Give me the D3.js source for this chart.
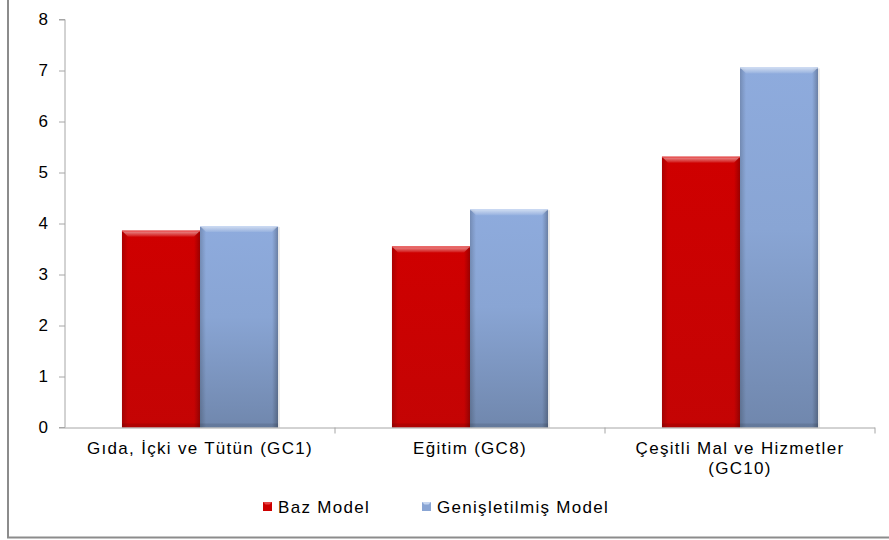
<!DOCTYPE html>
<html>
<head>
<meta charset="utf-8">
<script src="https://cdn.jsdelivr.net/npm/d3@7"></script>
<style>
  html, body { margin: 0; padding: 0; background: #fff; }
  svg text { font-family: "Liberation Sans", Arial, sans-serif; fill: #000; }
</style>
</head>
<body>
<svg id="chart" width="889" height="540"></svg>
<script>
// Categories and series
const categories = ["Gıda, İçki ve Tütün (GC1)", "Eğitim (GC8)", "Çeşitli Mal ve Hizmetler (GC10)"];
const categoryLines = [["Gıda, İçki ve Tütün (GC1)"], ["Eğitim (GC8)"], ["Çeşitli Mal ve Hizmetler", "(GC10)"]];
const seriesNames = ["Baz Model", "Genişletilmiş Model"];
const bazModel = [3.86, 3.55, 5.31];
const genisletilmisModel = [3.95, 4.28, 7.06];
const yTicks = [0, 1, 2, 3, 4, 5, 6, 7, 8];

const FONT = 17;
const SPACING = "1.3px";

const svg = d3.select("#chart");
const margin = { left: 65, right: 14, top: 19.5, bottom: 112.5 };
const W = 889, H = 540;
const plotW = W - margin.left - margin.right;
const plotH = H - margin.top - margin.bottom;

const defs = svg.append("defs");
const blueGrad = defs.append("linearGradient").attr("id", "blueGrad").attr("x1", 0).attr("y1", 0).attr("x2", 0).attr("y2", 1);
blueGrad.append("stop").attr("offset", "0%").attr("stop-color", "#8eabdd");
blueGrad.append("stop").attr("offset", "45%").attr("stop-color", "#89a5d4");
blueGrad.append("stop").attr("offset", "100%").attr("stop-color", "#7087ad");
const redGrad = defs.append("linearGradient").attr("id", "redGrad").attr("x1", 0).attr("y1", 0).attr("x2", 0).attr("y2", 1);
redGrad.append("stop").attr("offset", "0%").attr("stop-color", "#cf0000");
redGrad.append("stop").attr("offset", "100%").attr("stop-color", "#c40404");
const sideGrad = defs.append("linearGradient").attr("id", "sideL").attr("x1", 0).attr("y1", 0).attr("x2", 1).attr("y2", 0);
sideGrad.append("stop").attr("offset", "0%").attr("stop-color", "#000").attr("stop-opacity", 0.18);
sideGrad.append("stop").attr("offset", "100%").attr("stop-color", "#000").attr("stop-opacity", 0);
const sideGradR = defs.append("linearGradient").attr("id", "sideR").attr("x1", 1).attr("y1", 0).attr("x2", 0).attr("y2", 0);
sideGradR.append("stop").attr("offset", "0%").attr("stop-color", "#000").attr("stop-opacity", 0.25);
sideGradR.append("stop").attr("offset", "100%").attr("stop-color", "#000").attr("stop-opacity", 0);
const topGrad = defs.append("linearGradient").attr("id", "topHi").attr("x1", 0).attr("y1", 0).attr("x2", 0).attr("y2", 1);
topGrad.append("stop").attr("offset", "0%").attr("stop-color", "#fff").attr("stop-opacity", 0.6);
topGrad.append("stop").attr("offset", "100%").attr("stop-color", "#fff").attr("stop-opacity", 0.08);

// Outer frame: left and bottom edges
svg.append("line").attr("x1", 8).attr("x2", 8).attr("y1", 0).attr("y2", 538)
  .attr("stroke", "#8c8c8c").attr("stroke-width", 2);
svg.append("line").attr("x1", 7).attr("x2", W).attr("y1", 537.5).attr("y2", 537.5)
  .attr("stroke", "#8c8c8c").attr("stroke-width", 2);

const g = svg.append("g").attr("transform", `translate(${margin.left},${margin.top})`);

const x0 = d3.scaleBand().domain(categories).range([0, plotW]).paddingInner(0).paddingOuter(0);
const x1 = d3.scaleBand().domain(seriesNames).range([0, x0.bandwidth()]).paddingInner(0).paddingOuter(0.73);
const y = d3.scaleLinear().domain([0, 8]).range([plotH, 0]);

// Y axis
const yAxis = g.append("g").call(d3.axisLeft(y).tickValues(yTicks).tickSize(6).tickPadding(11).tickFormat(d3.format("d")));
yAxis.attr("font-size", FONT).attr("font-family", "Liberation Sans, Arial, sans-serif");
yAxis.select(".domain").attr("stroke", "#a6a6a6").attr("d", `M-6,${plotH}H0V0H-6`);
yAxis.selectAll(".tick line").attr("stroke", "#a6a6a6");
yAxis.selectAll(".tick text").attr("font-size", FONT).attr("fill", "#000");

const series = [
  { name: seriesNames[0], values: bazModel, fill: "url(#redGrad)", edge: "#e84040" },
  { name: seriesNames[1], values: genisletilmisModel, fill: "url(#blueGrad)", edge: "#c8d8f2" }
];

// Bars with bevel shading
const bars = g.append("g");
series.forEach(s => {
  categories.forEach((c, i) => {
    const bx = x0(c) + x1(s.name);
    const bw = x1.bandwidth();
    const by = y(s.values[i]);
    const bh = y(0) - by;
    const b = bars.append("g");
    // soft shadow
    b.append("rect").attr("x", bx + 1).attr("y", by + 1).attr("width", bw + 1).attr("height", bh - 1)
      .attr("fill", "#000").attr("opacity", 0.08);
    b.append("rect").attr("x", bx).attr("y", by).attr("width", bw).attr("height", bh).attr("fill", s.fill);
    const bev = 6;
    // left and right bevel strips
    b.append("rect").attr("x", bx).attr("y", by).attr("width", bev).attr("height", bh).attr("fill", "url(#sideL)");
    b.append("rect").attr("x", bx + bw - bev).attr("y", by).attr("width", bev).attr("height", bh).attr("fill", "url(#sideR)");
    // top bevel highlight
    b.append("path")
      .attr("d", `M${bx},${by}H${bx + bw}L${bx + bw - bev},${by + bev}H${bx + bev}Z`)
      .attr("fill", "url(#topHi)");
    b.append("line").attr("x1", bx).attr("x2", bx + bw).attr("y1", by + 0.5).attr("y2", by + 0.5)
      .attr("stroke", s.edge).attr("stroke-width", 1);
    // bottom dark band
    b.append("rect").attr("x", bx).attr("y", y(0) - 4).attr("width", bw).attr("height", 4)
      .attr("fill", "#000").attr("opacity", 0.1);
  });
});

// X axis line with category boundary ticks
g.append("line").attr("x1", 0).attr("x2", plotW).attr("y1", plotH + 0.5).attr("y2", plotH + 0.5)
  .attr("stroke", "#a6a6a6");
categories.forEach(c => {
  const bx = x0(c) + x0.bandwidth();
  g.append("line").attr("x1", bx).attr("x2", bx).attr("y1", plotH).attr("y2", plotH + 6)
    .attr("stroke", "#a6a6a6");
});

// Category labels
categories.forEach((c, i) => {
  const cx = x0(c) + x0.bandwidth() / 2;
  const t = g.append("text").attr("x", cx).attr("y", plotH + 26.5)
    .attr("text-anchor", "middle").attr("font-size", FONT).style("letter-spacing", SPACING);
  categoryLines[i].forEach((line, k) => {
    t.append("tspan").attr("x", cx).attr("dy", k === 0 ? 0 : 19.5).text(line);
  });
});

// Legend
const legend = svg.append("g").attr("transform", "translate(0,507)");
const legendItems = [
  { name: seriesNames[0], x: 263, color: "#cc0000", hi: "#e64545" },
  { name: seriesNames[1], x: 422, color: "#89a5d4", hi: "#c6d6f0" }
];
legendItems.forEach(d => {
  legend.append("rect").attr("x", d.x).attr("y", -5).attr("width", 9).attr("height", 9).attr("fill", d.color);
  legend.append("path").attr("d", `M${d.x},-5H${d.x + 9}L${d.x + 6.5},-2.5H${d.x + 2.5}Z`).attr("fill", d.hi);
  legend.append("text").attr("x", d.x + 15).attr("y", 6).attr("font-size", FONT)
    .style("letter-spacing", SPACING).text(d.name);
});
</script>
</body>
</html>
